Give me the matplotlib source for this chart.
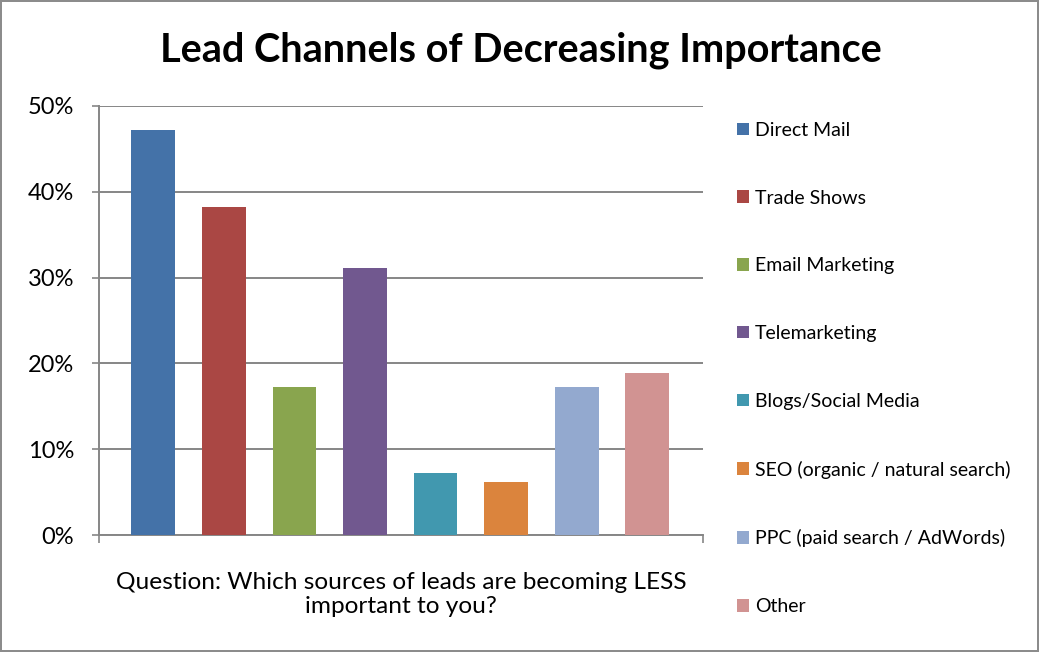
import matplotlib
matplotlib.use('Agg')
import matplotlib.pyplot as plt
from matplotlib.patches import Patch
import numpy as np

# survey answers
channels = ['Direct Mail', 'Trade Shows', 'Email Marketing', 'Telemarketing',
            'Blogs/Social Media', 'SEO (organic / natural search)',
            'PPC (paid search / AdWords)', 'Other']
shares = [47.2, 38.2, 17.2, 31.1, 7.2, 6.2, 17.2, 18.9]
colors = ['#4472a8', '#aa4744', '#89a54e', '#71588f',
          '#4198af', '#db843d', '#93a9cf', '#d19392']
y_ticks = [0, 10, 20, 30, 40, 50]

plt.rcParams['font.family'] = ['Lato', 'DejaVu Sans']

fig = plt.figure(figsize=(10.39, 6.52), dpi=100)
fig.patch.set_edgecolor('#8c8c8c')
fig.patch.set_linewidth(1.5)

# axes placed in pixel terms of the 1039x652 canvas
W, H = 1039.0, 652.0
ax = fig.add_axes([99 / W, 1 - 535 / H, (703 - 99) / W, (535 - 106) / H])

x = np.arange(len(channels))
ax.bar(x, shares, width=0.62, color=colors, zorder=3)

ax.set_xlim(-0.77, 7.79)
ax.set_ylim(0, 50)
ax.set_yticks(y_ticks)
ax.set_yticklabels(['{}%'.format(v) for v in y_ticks], fontsize=17)
ax.yaxis.grid(True, color='#868686', linewidth=1.4, zorder=0)
ax.tick_params(axis='y', length=5, color='#868686', width=1.2, pad=13)

# single category axis: tick marks only at both ends
ax.set_xticks([-0.77, 7.79])
ax.set_xticklabels(['', ''])
ax.tick_params(axis='x', length=6, color='#868686', width=1.2)

for side in ['top', 'right']:
    ax.spines[side].set_visible(False)
for side in ['left', 'bottom']:
    ax.spines[side].set_color('#868686')
    ax.spines[side].set_linewidth(1.4)

ax.set_xlabel('Question: Which sources of leads are becoming LESS\nimportant to you?',
              fontsize=17.6, labelpad=17, linespacing=1.18)

fig.text(521 / W, 1 - 50 / H, 'Lead Channels of Decreasing Importance',
         fontsize=28.5, fontweight='bold', ha='center', va='center')

handles = [Patch(facecolor=c, edgecolor='none') for c in colors]
fig.legend(handles, channels, loc='upper left', bbox_to_anchor=(729 / W, 1 - 114 / H),
           frameon=False, fontsize=14, handlelength=0.62, handleheight=0.62,
           handletextpad=0.3, labelspacing=2.61, borderaxespad=0)

fig.savefig('out.png', dpi=100)
